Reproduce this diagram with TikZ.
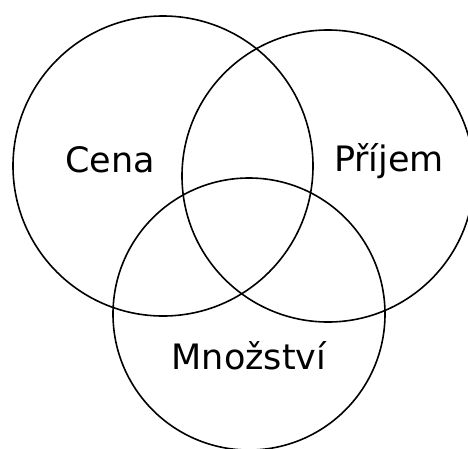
\documentclass[tikz,border=0pt]{standalone}
\usepackage{fontspec}
\setmainfont{DejaVu Sans}
\tikzset{
	kruh/.style={draw, circle, line width=1.6pt, inner sep=0pt},
	popis/.style={font=\fontsize{35}{40}\selectfont, anchor=base, inner sep=0pt}
}
\begin{document}
	\begin{tikzpicture}[x=1pt,y=-1pt]
		\useasboundingbox (0,0) rectangle (468,448);
		\clip (0,0) rectangle (468,448);
		\node[kruh, minimum size=300pt] (cena) at (163,166) {};
		\node[kruh, minimum size=292pt] (prijem) at (328,176) {};
		\node[kruh, minimum size=272pt] (mnozstvi) at (249,314) {};
		\node[popis] (tcena) at (110,172) {Cena};
		\node[popis] (tprijem) at (389,171) {Příjem};
		\node[popis] (tmnozstvi) at (249,369) {Množství};
	\end{tikzpicture}
\end{document}
